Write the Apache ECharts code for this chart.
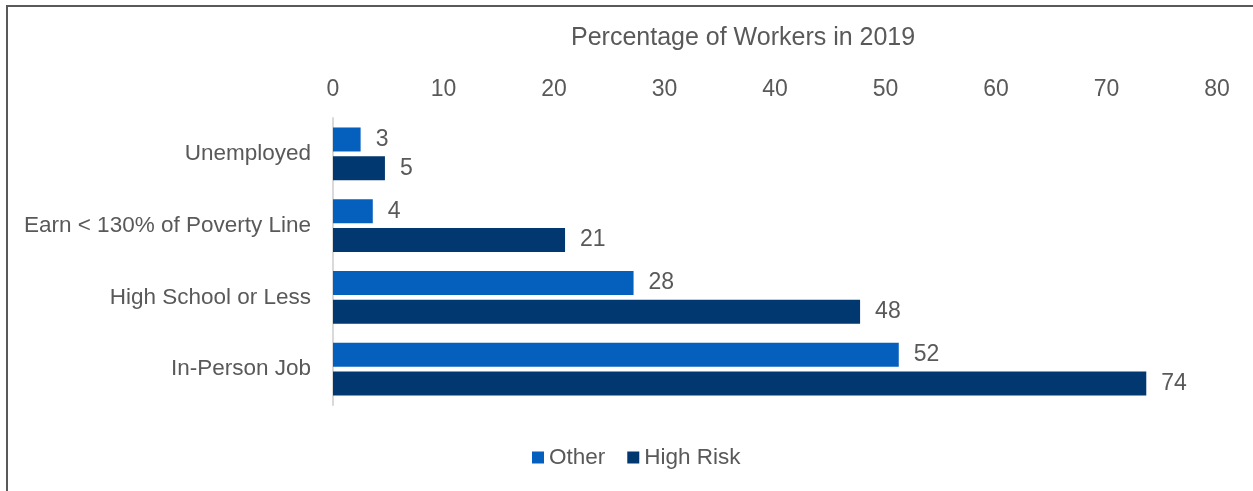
<!DOCTYPE html>
<html><head><meta charset="utf-8">
<script src="https://cdn.jsdelivr.net/npm/echarts@6/dist/echarts.min.js"></script>
<style>html,body{margin:0;padding:0;background:#fff}#c{width:1253px;height:491px}</style>
</head><body><div id="c"></div>
<script>
const categories = ['Unemployed', 'Earn < 130% of Poverty Line', 'High School or Less', 'In-Person Job'];
const otherValues = [2.5, 3.6, 27.2, 51.2];
const highRiskValues = [4.7, 21.0, 47.7, 73.6];
const otherLabels = [3, 4, 28, 52];
const highRiskLabels = [5, 21, 48, 74];
const axisTitle = 'Percentage of Workers in 2019';

const FONT = 'Liberation Sans';
const TXT = '#595959';
const chart = echarts.init(document.getElementById('c'));
chart.setOption({
  animation: false,
  textStyle: { fontFamily: FONT },
  title: { text: axisTitle, left: 571, top: 26, padding: 0, textStyle: { fontSize: 25, fontWeight: 'normal', color: TXT, fontFamily: FONT } },
  graphic: [{ type: 'rect', shape: { x: 7, y: 6, width: 1300, height: 600 }, style: { fill: 'none', stroke: '#595959', lineWidth: 2 }, silent: true }],
  grid: { left: 333, right: 36, top: 118, bottom: 86 },
  legend: {
    bottom: 17, left: 527, itemWidth: 12, itemHeight: 12, itemGap: 22,
    icon: 'rect', textStyle: { fontSize: 22.5, color: TXT, fontFamily: FONT },
    data: ['Other', 'High Risk']
  },
  xAxis: {
    type: 'value', position: 'top', min: 0, max: 80, interval: 10,
    axisLine: { show: false }, axisTick: { show: false }, splitLine: { show: false },
    axisLabel: { fontSize: 23, color: TXT, margin: 17, fontFamily: FONT }
  },
  yAxis: {
    type: 'category', inverse: true, data: categories,
    axisLine: { show: true, lineStyle: { color: '#d9d9d9', width: 2 } },
    axisTick: { show: false },
    axisLabel: { fontSize: 22.5, color: TXT, margin: 22, fontFamily: FONT }
  },
  series: [
    { name: 'Other', type: 'bar', data: otherValues, barWidth: 24, barGap: '20%',
      itemStyle: { color: '#0560BD' },
      label: { show: true, position: 'right', distance: 15, fontSize: 23, color: TXT, fontFamily: FONT,
        formatter: p => otherLabels[p.dataIndex] } },
    { name: 'High Risk', type: 'bar', data: highRiskValues, barWidth: 24,
      itemStyle: { color: '#00386F' },
      label: { show: true, position: 'right', distance: 15, fontSize: 23, color: TXT, fontFamily: FONT,
        formatter: p => highRiskLabels[p.dataIndex] } }
  ]
});
</script></body></html>
